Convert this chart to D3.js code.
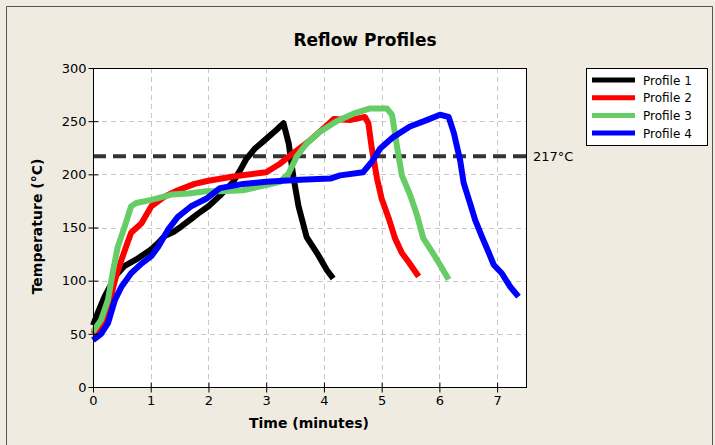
<!DOCTYPE html>
<html>
<head>
<meta charset="utf-8">
<script src="https://cdn.jsdelivr.net/npm/d3@7"></script>
<style>
  html, body { margin: 0; padding: 0; background: #EFEBE0; }
  svg { display: block; }
  text { font-family: Tahoma, "DejaVu Sans", sans-serif; }
</style>
</head>
<body>
<script>
// ---- data ----
const xTicks = [0, 1, 2, 3, 4, 5, 6, 7];
const yTicks = [0, 50, 100, 150, 200, 250, 300];
const seriesNames = ["Profile 1", "Profile 2", "Profile 3", "Profile 4"];
const seriesColors = ["#000000", "#FF0000", "#66CC66", "#0000FF"];
const liquidus = 217;

const p1Time = [0,0.1,0.2,0.3,0.38,0.55,0.78,1.0,1.12,1.24,1.4,1.53,1.7,1.82,2.0,2.2,2.43,2.55,2.65,2.8,2.95,3.18,3.3,3.39,3.47,3.56,3.70,3.88,4.05,4.16];
const p1Temp = [58,72,85,95,104,114,121,129,135,142,146,151,158,163,170,180,193,204,214,224,231,242,248,229,198,170,141,126,110,102];

const p2Time = [0,0.15,0.3,0.35,0.42,0.49,0.58,0.66,0.84,1.01,1.24,1.47,1.76,2.0,2.43,3.0,3.24,3.47,3.76,4.05,4.17,4.45,4.71,4.77,4.83,4.92,5.0,5.12,5.23,5.35,5.46,5.64];
const p2Temp = [50,58,80,94,108,119,133,145,154,170,179,185,191,194,198,202,210,220,232,246,252,251,254,248,224,196,177,159,140,126,118,104];

const p3Time = [0,0.14,0.26,0.35,0.43,0.55,0.66,0.75,1.01,1.36,1.65,1.96,2.2,2.6,3.0,3.24,3.39,3.53,3.70,3.93,4.22,4.51,4.80,5.09,5.18,5.26,5.35,5.49,5.61,5.72,5.84,6.01,6.16];
const p3Temp = [52,63,82,110,132,151,170,173,176,181,182,184,184,185,190,193,201,217,229,240,250,257,262,262,256,228,199,181,162,140,130,115,101];

const p4Time = [0,0.14,0.26,0.38,0.49,0.66,0.84,1.01,1.13,1.30,1.47,1.70,1.96,2.2,2.6,3.0,3.59,4.11,4.28,4.68,4.83,4.97,5.20,5.49,5.78,6.01,6.16,6.25,6.36,6.42,6.53,6.62,6.74,6.85,6.94,7.08,7.23,7.37];
const p4Temp = [44,50,60,82,94,107,116,123,132,148,160,170,177,187,191,193,195,196,199,202,212,224,235,245,251,256,254,239,213,192,173,157,141,127,115,107,94,85];

const seriesTimes = [p1Time, p2Time, p3Time, p4Time];
const seriesTemps = [p1Temp, p2Temp, p3Temp, p4Temp];

// ---- layout ----
const W = 715, H = 445;
const plot = { left: 93, right: 526, top: 68, bottom: 387 };

const svg = d3.select("body").append("svg").attr("width", W).attr("height", H);

// outer frame
svg.append("rect").attr("x", 0).attr("y", 0).attr("width", W).attr("height", H).attr("fill", "#EFEBE0");
svg.append("path").attr("d", `M6.5,${H} V6.5 H712.5 V${H}`).attr("fill", "none").attr("stroke", "#555").attr("stroke-width", 1);

const x = d3.scaleLinear().domain([0, 7.5]).range([plot.left, plot.right]);
const y = d3.scaleLinear().domain([0, 300]).range([plot.bottom, plot.top]);

// plot background
svg.append("rect").attr("x", plot.left).attr("y", plot.top)
  .attr("width", plot.right - plot.left).attr("height", plot.bottom - plot.top)
  .attr("fill", "#fff");

// grid
const grid = svg.append("g");
xTicks.slice(1).forEach(t => {
  grid.append("line").attr("x1", Math.round(x(t)) + 0.5).attr("x2", Math.round(x(t)) + 0.5)
    .attr("y1", plot.top).attr("y2", plot.bottom)
    .attr("stroke", "#c8c8c8").attr("stroke-dasharray", "5,4");
});
yTicks.slice(1, -1).forEach(v => {
  grid.append("line").attr("y1", Math.round(y(v)) + 0.5).attr("y2", Math.round(y(v)) + 0.5)
    .attr("x1", plot.left).attr("x2", plot.right)
    .attr("stroke", "#c8c8c8").attr("stroke-dasharray", "5,4");
});

// 217 reference line
svg.append("line").attr("x1", plot.left).attr("x2", plot.right)
  .attr("y1", y(liquidus)).attr("y2", y(liquidus))
  .attr("stroke", "#333").attr("stroke-width", 4).attr("stroke-dasharray", "13,7");
svg.append("text").attr("x", plot.right + 7).attr("y", y(liquidus) + 5)
  .attr("font-size", 13).attr("fill", "#000").text(liquidus + "°C");

// series
const line = d3.line().x(d => x(d[0])).y(d => y(d[1]));
seriesNames.forEach((name, i) => {
  const pts = seriesTimes[i].map((t, j) => [t, seriesTemps[i][j]]);
  svg.append("path").datum(pts).attr("d", line)
    .attr("fill", "none").attr("stroke", seriesColors[i])
    .attr("stroke-width", 6).attr("stroke-linejoin", "round").attr("stroke-linecap", "butt");
});

// plot frame
svg.append("rect").attr("x", plot.left + 0.5).attr("y", plot.top + 0.5)
  .attr("width", plot.right - plot.left).attr("height", plot.bottom - plot.top)
  .attr("fill", "none").attr("stroke", "#000");

// axes
const xAxis = svg.append("g").attr("transform", `translate(0,${plot.bottom + 0.5})`)
  .call(d3.axisBottom(x).tickValues(xTicks).tickFormat(d3.format("d")).tickSize(5).tickSizeOuter(0));
const yAxis = svg.append("g").attr("transform", `translate(${plot.left + 0.5},0)`)
  .call(d3.axisLeft(y).tickValues(yTicks).tickFormat(d3.format("d")).tickSize(5).tickSizeOuter(0));
[xAxis, yAxis].forEach(a => {
  a.select(".domain").remove();
  a.selectAll("text").attr("font-size", 13).attr("fill", "#000").style("font-family", 'Tahoma, "DejaVu Sans", sans-serif');
  a.selectAll("line").attr("stroke", "#000");
});
// ticks crossing into plot
xAxis.selectAll(".tick line").attr("y1", -5).attr("y2", 5);
xAxis.selectAll(".tick text").attr("y", 8);
yAxis.selectAll(".tick line").attr("x1", -5).attr("x2", 5);
yAxis.selectAll(".tick text").attr("x", -7);

// titles
svg.append("text").attr("x", 365).attr("y", 46).attr("text-anchor", "middle")
  .attr("font-size", 17).attr("font-weight", "bold").text("Reflow Profiles");
svg.append("text").attr("x", 309).attr("y", 428).attr("text-anchor", "middle")
  .attr("font-size", 14).attr("font-weight", "bold").text("Time (minutes)");
svg.append("text").attr("transform", `translate(42,${(plot.top + plot.bottom) / 2 - 1}) rotate(-90)`)
  .attr("text-anchor", "middle").attr("font-size", 14).attr("font-weight", "bold").text("Temperature (°C)");

// legend
const lg = svg.append("g");
lg.append("rect").attr("x", 586.5).attr("y", 68.5).attr("width", 121).attr("height", 77)
  .attr("fill", "#fff").attr("stroke", "#000");
seriesNames.forEach((name, i) => {
  const ly = 80 + i * 17.7;
  lg.append("line").attr("x1", 592).attr("x2", 635).attr("y1", ly).attr("y2", ly)
    .attr("stroke", seriesColors[i]).attr("stroke-width", 5);
  lg.append("text").attr("x", 643).attr("y", ly + 4.5).attr("font-size", 12).text(name);
});
</script>
</body>
</html>
